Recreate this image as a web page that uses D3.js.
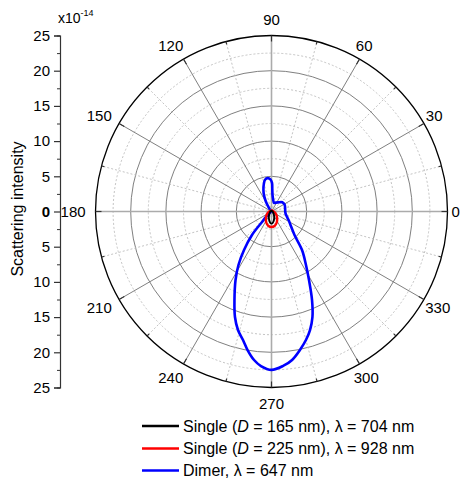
<!DOCTYPE html>
<html>
<head>
<meta charset="utf-8">
<script src="https://cdn.jsdelivr.net/npm/d3@7"></script>
<style>
  body { margin: 0; background: #fff; }
  text { font-family: "Liberation Sans", Arial, sans-serif; fill: #000; }
</style>
</head>
<body>
<div id="chart"></div>
<script>
// angle (deg) and intensity (x1e-14)
const singleSmall = [[0,0.15],[90,0.1],[180,0.15],[215,0.3],[235,0.6],[248,1.0],[258,1.4],[265,1.65],[270,1.72],[275,1.66],[282,1.42],[292,1.02],[305,0.62],[325,0.3]];
const singleLarge = [[0,0.3],[30,0.22],[90,0.15],[150,0.2],[180,0.3],[200,0.55],[215,0.85],[230,1.25],[245,1.75],[258,2.1],[270,2.2],[282,2.1],[295,1.75],[310,1.25],[325,0.85],[340,0.55]];
const dimer = [[0,1.95],[15,2.0],[27.5,2.1],[40.5,2.02],[54,1.6],[64,1.4],[73.5,1.27],[83,1.8],[86.5,2.36],[88,3.2],[89,4.07],[92,4.57],[96.5,4.77],[101.5,4.6],[105.5,4.07],[110.5,3.27],[114.5,2.6],[117.5,2.0],[120.5,1.4],[124,0.77],[130,0.3],[145,0.12],[180,0.1],[210,0.12],[220,0.45],[224.5,1.1],[227.9,2.0],[230.3,4.34],[234.5,6.72],[238.3,8.93],[242.3,10.99],[247.3,13.63],[250.9,15.86],[254.2,17.49],[257.5,18.7],[260.2,19.97],[263.3,21.24],[266.1,22.0],[270,22.5],[274.3,22.0],[277.9,21.29],[281.6,20.08],[285,18.9],[288,17.7],[291.2,16.08],[294.6,13.83],[298.7,11.09],[302.8,9.04],[308.4,6.98],[314.4,4.67],[324.6,3.31],[332,2.8],[340.5,2.34],[350,2.05]];

const seriesColors = ["#000000", "#ff0000", "#0000ff"];
const angleTicks = [0,30,60,90,120,150,180,210,240,270,300,330];
const angleMinor = [15,45,75,105,135,165,195,225,255,285,315,345];
const ringMajor = [5,10,15,20];
const ringMinor = [2.5,7.5,12.5,17.5,22.5];
const axisTicks = [25,20,15,10,5,0,-5,-10,-15,-20,-25];
const axisMinor = [22.5,17.5,12.5,7.5,2.5,-2.5,-7.5,-12.5,-17.5,-22.5];

const width = 462, height = 485;
const cx = 271.5, cy = 211.5, R = 176;

const svg = d3.select("#chart").append("svg")
  .attr("width", width)
  .attr("height", height);

const r = d3.scaleLinear().domain([0, 25]).range([0, R]);
const rad = deg => deg * Math.PI / 180;

const polar = svg.append("g").attr("transform", `translate(${cx},${cy})`);

// grid rings
polar.append("g").selectAll("circle")
  .data(ringMinor)
  .enter().append("circle")
    .attr("r", d => r(d))
    .attr("fill", "none")
    .attr("stroke", "#c4c4c4")
    .attr("stroke-dasharray", "2,2");

polar.append("g").selectAll("circle")
  .data(ringMajor)
  .enter().append("circle")
    .attr("r", d => r(d))
    .attr("fill", "none")
    .attr("stroke", "#808080");

// spokes
polar.append("g").selectAll("line")
  .data(angleMinor)
  .enter().append("line")
    .attr("x2", d => r(25) * Math.cos(rad(d)))
    .attr("y2", d => -r(25) * Math.sin(rad(d)))
    .attr("stroke", "#c4c4c4")
    .attr("stroke-dasharray", "2,2");

polar.append("g").selectAll("line")
  .data(angleTicks)
  .enter().append("line")
    .attr("x2", d => r(25) * Math.cos(rad(d)))
    .attr("y2", d => -r(25) * Math.sin(rad(d)))
    .attr("stroke", d => d % 90 == 0 ? "#ababab" : "#808080")
    .attr("stroke-width", d => d % 90 == 0 ? 1.6 : 1);

// outer circle + ticks
polar.append("circle")
  .attr("r", r(25))
  .attr("fill", "none")
  .attr("stroke", "#000")
  .attr("stroke-width", 1.3);

function tickLines(data, len) {
  polar.append("g").selectAll("line")
    .data(data)
    .enter().append("line")
      .attr("x1", d => r(25) * Math.cos(rad(d)))
      .attr("y1", d => -r(25) * Math.sin(rad(d)))
      .attr("x2", d => (r(25) - len) * Math.cos(rad(d)))
      .attr("y2", d => -(r(25) - len) * Math.sin(rad(d)))
      .attr("stroke", "#333")
      .attr("stroke-width", 1.2);
}
tickLines(angleTicks, 6);
tickLines(angleMinor, 3);

// angle labels
polar.append("g").selectAll("text")
  .data(angleTicks)
  .enter().append("text")
    .attr("x", d => {
      const w = String(d).length * 8.3;
      const shift = d % 180 == 90 ? 0 : -3;
      return (R + 7) * Math.cos(rad(d)) + w / 2 * Math.cos(rad(d)) + shift;
    })
    .attr("y", d => -(R + 7) * Math.sin(rad(d)) - 9 * Math.sin(rad(d)))
    .attr("dy", "0.36em")
    .attr("text-anchor", "middle")
    .style("font-size", "15px")
    .text(d => d);

// curves
const line = d3.lineRadial()
  .angle(d => rad(90 - d[0]))
  .radius(d => r(d[1]))
  .curve(d3.curveCatmullRomClosed.alpha(0.5));

const curves = [dimer, singleLarge, singleSmall];
const curveColors = [seriesColors[2], seriesColors[1], seriesColors[0]];
const curveWidths = [2.6, 2.4, 1.9];
polar.append("g").selectAll("path")
  .data(curves)
  .enter().append("path")
    .attr("d", d => line(d))
    .attr("fill", "none")
    .attr("stroke", (d, i) => curveColors[i])
    .attr("stroke-width", (d, i) => curveWidths[i])
    .attr("stroke-linejoin", "round");

// left intensity axis
const y = d3.scaleLinear().domain([25, -25]).range([cy - R, cy + R]);
const axisX = 60;

svg.append("g")
  .attr("transform", `translate(${axisX},0)`)
  .call(d3.axisLeft(y).tickValues(axisMinor).tickSize(3).tickFormat(""))
  .call(g => g.selectAll("line,path").attr("stroke", "#333"));

const yAxis = svg.append("g")
  .attr("transform", `translate(${axisX},0)`)
  .call(d3.axisLeft(y).tickValues(axisTicks).tickSize(6).tickPadding(4).tickFormat(d => Math.abs(d)));
yAxis.selectAll("line,path").attr("stroke", "#333").attr("stroke-width", 1.2);
yAxis.selectAll("text")
  .style("font-size", "15px")
  .style("font-family", "'Liberation Sans', Arial, sans-serif")
  .attr("fill", "#000")
  .style("font-weight", d => d == 0 ? "bold" : "normal");

const mult = svg.append("text")
  .attr("x", 58)
  .attr("y", 23)
  .style("font-size", "14px");
mult.append("tspan").text("x10");
mult.append("tspan").attr("dy", -7).style("font-size", "9px").text("-14");

svg.append("text")
  .attr("transform", `translate(23,209) rotate(-90)`)
  .attr("text-anchor", "middle")
  .style("font-size", "16px")
  .text("Scattering intensity");

// legend
const legendY = [426, 448.5, 470.5];
const legend = svg.append("g");
legend.selectAll("line")
  .data(seriesColors)
  .enter().append("line")
    .attr("x1", 142).attr("x2", 179)
    .attr("y1", (d, i) => legendY[i]).attr("y2", (d, i) => legendY[i])
    .attr("stroke", d => d)
    .attr("stroke-width", 2.6);

const labels = [
  [["Single ("], ["D", true], [" = 165 nm), \u03bb = 704 nm"]],
  [["Single ("], ["D", true], [" = 225 nm), \u03bb = 928 nm"]],
  [["Dimer, \u03bb = 647 nm"]]
];
labels.forEach((parts, i) => {
  const t = legend.append("text")
    .attr("x", 183)
    .attr("y", legendY[i])
    .attr("dy", "0.36em")
    .style("font-size", "16px");
  parts.forEach(p => {
    t.append("tspan").style("font-style", p[1] ? "italic" : "normal").text(p[0]);
  });
});
</script>
</body>
</html>
